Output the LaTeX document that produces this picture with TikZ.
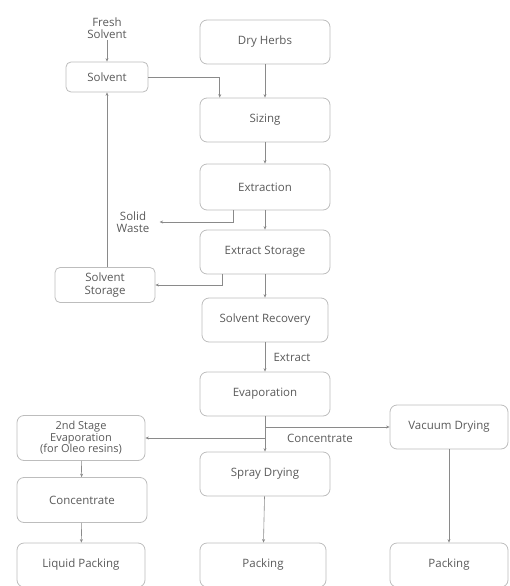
\documentclass[tikz,border=0pt]{standalone}
\usepackage{fontspec}
\setmainfont{Open Sans}
\usetikzlibrary{arrows.meta,calc}
\definecolor{txt}{HTML}{5A5A5A}
\definecolor{ln}{HTML}{8A8A8A}
\definecolor{bd}{HTML}{BDBDBD}
\begin{document}
\begin{tikzpicture}[x=1pt,y=-1pt,
  box/.style={draw=bd,line width=0.8pt,rounded corners=7pt,fill=white,text=txt,
    font=\fontsize{11.5}{12.5}\selectfont,align=center,inner sep=0pt},
  lbl/.style={text=txt,font=\fontsize{11.5}{12.5}\selectfont,align=center,inner sep=1pt},
  conn/.style={draw=ln,line width=0.6pt,-{Stealth[length=3.5pt,width=3pt]}}]
\useasboundingbox (0,0) rectangle (509,586);
% main column
\node[box,minimum width=130pt,minimum height=44pt] (dry) at (265,42) {Dry Herbs};
\node[box,minimum width=130pt,minimum height=44pt] (sizing) at (265,120) {Sizing};
\node[box,minimum width=130pt,minimum height=46pt] (extr) at (265,187) {Extraction};
\node[box,minimum width=130pt,minimum height=44pt] (exst) at (265,252) {Extract Storage};
\node[box,minimum width=126pt,minimum height=44pt] (recov) at (265,320) {Solvent Recovery};
\node[box,minimum width=130pt,minimum height=44pt] (evap) at (265,394) {Evaporation};
\node[box,minimum width=130pt,minimum height=44pt] (spray) at (265,474) {Spray Drying};
\node[box,minimum width=126pt,minimum height=44pt] (pack2) at (263,565) {Packing};
% left column
\node[lbl] (fresh) at (107,28) {Fresh\\Solvent};
\node[box,minimum width=82pt,minimum height=30pt,rounded corners=5pt] (solv) at (107,77) {Solvent};
\node[lbl] (waste) at (133,222) {Solid\\Waste};
\node[box,minimum width=100pt,minimum height=35pt,rounded corners=5pt] (solst) at (105,285) {Solvent\\Storage};
\node[box,minimum width=128pt,minimum height=45pt,font=\fontsize{11}{11.5}\selectfont] (stage2) at (81,438) {2nd Stage\\Evaporation\\(for Oleo resins)};
\node[box,minimum width=130pt,minimum height=45pt] (conc) at (82,500) {Concentrate};
\node[box,minimum width=128pt,minimum height=44pt] (liq) at (81,565) {Liquid Packing};
% right column
\node[box,minimum width=118pt,minimum height=44pt] (vac) at (449,427) {Vacuum Drying};
\node[box,minimum width=118pt,minimum height=44pt] (pack3) at (449,565) {Packing};
% labels
\node[lbl] (extlbl) at (292,357) {Extract};
\node[lbl] (conclbl) at (320,438) {Concentrate};
% connectors
\draw[conn] (fresh) -- (solv);
\draw[conn] (solv.east) -| ($(sizing.north west)!0.154!(sizing.north east)$);
\draw[conn] (dry) -- (sizing);
\draw[conn] (sizing) -- (extr);
\draw[conn] (extr) -- (exst);
\draw[conn] (exst) -- (recov);
\draw[conn] (recov) -- (evap);
\draw[conn] ($(extr.south west)!0.254!(extr.south east)$) |- ($(waste.east)+(9,0)$);
\draw[conn] ($(exst.south west)!0.177!(exst.south east)$) |- (solst.east);
\draw[conn] (solst.north -| solv.south) -- (solv.south);
\draw[conn] (evap) -- (spray);
\draw[conn] (evap.south |- vac.west) -- (vac.west);
\draw[conn] (evap.south |- stage2.east) -- (stage2.east);
\draw[conn] (stage2) -- (conc);
\draw[conn] (conc) -- (liq);
\draw[conn] (spray) -- (pack2);
\draw[conn] (vac) -- (pack3);
\end{tikzpicture}
\end{document}
